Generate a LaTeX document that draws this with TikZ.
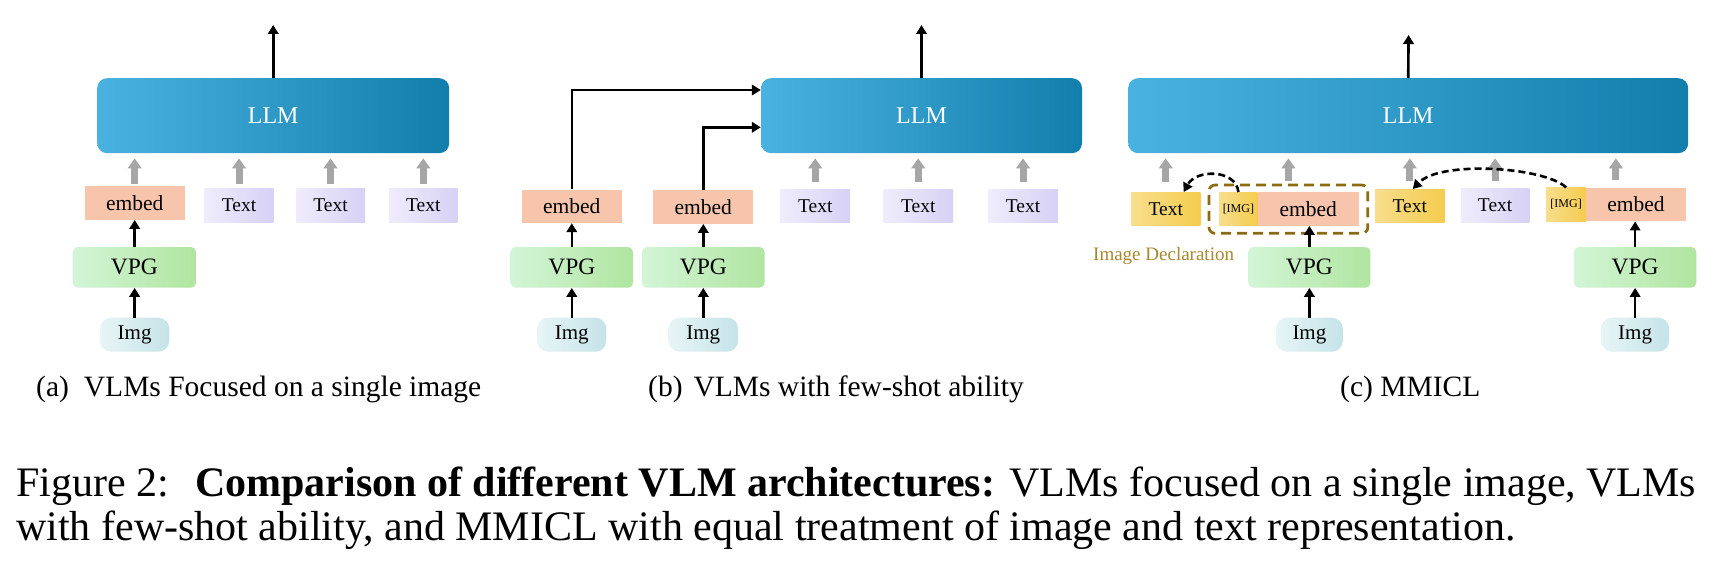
\documentclass[tikz,border=0pt]{standalone}
\usepackage{fontspec}
\setmainfont{Liberation Serif}
\usetikzlibrary{arrows.meta,calc}
\definecolor{llmL}{HTML}{4AB2E1}
\definecolor{llmR}{HTML}{127EAC}
\definecolor{embedc}{HTML}{F6C5AB}
\definecolor{txtL}{HTML}{EFECFC}
\definecolor{txtR}{HTML}{D7D1F5}
\definecolor{vpgL}{HTML}{D3F5D7}
\definecolor{vpgR}{HTML}{B0E5A0}
\definecolor{imgL}{HTML}{E7F5F6}
\definecolor{imgR}{HTML}{C5E3E8}
\definecolor{yelL}{HTML}{F8DE8D}
\definecolor{yelR}{HTML}{F5CC4E}
\definecolor{arrgray}{HTML}{A6A6A6}
\definecolor{declc}{HTML}{8C6B12}
\definecolor{decltext}{HTML}{A8882E}
\tikzset{
 fsz/.style={font=\fontsize{#1}{#1}\selectfont},
 box/.style={inner sep=0pt, text=black},
 llmbox/.style={box, rounded corners=10pt, left color=llmL, right color=llmR, minimum height=75pt, text=white, fsz=24},
 embedbox/.style={box, fill=embedc, minimum width=100pt, minimum height=33.5pt, fsz=21.5},
 textbox/.style={box, left color=txtL, right color=txtR, minimum width=69pt, minimum height=33.5pt, fsz=19.5},
 ytextbox/.style={box, left color=yelL, right color=yelR, minimum width=69.4pt, minimum height=33.4pt, fsz=19.5},
 tagbox/.style={box, left color=yelL, right color=yelR, minimum height=33.4pt, fsz=12},
 vpgbox/.style={box, rounded corners=5pt, left color=vpgL, right color=vpgR, minimum width=122.5pt, minimum height=40.7pt, fsz=23.5},
 imgbox/.style={box, rounded corners=11pt, left color=imgL, right color=imgR, minimum width=68pt, minimum height=34pt, fsz=21},
 blk/.style={line width=2.6pt, -{Triangle[width=10.5pt,length=9pt]}},
 gry/.style={draw=arrgray, line width=7pt, -{Triangle[width=13.5pt,length=10pt]}, shorten >=5pt},
 dcurve/.style={line width=2.6pt, dash pattern=on 7pt off 4pt, -{Triangle[width=10pt,length=9pt]}},
 declbox/.style={draw=declc, line width=2.7pt, dash pattern=on 10pt off 6pt, rounded corners=6pt, inner sep=0pt},
 subcap/.style={anchor=base west, inner sep=0pt, fsz=29.5},
 figcap/.style={anchor=base west, inner sep=0pt, fsz=42},
}
\begin{document}
\begin{tikzpicture}[x=1pt,y=-1pt]
\useasboundingbox[fill=white] (0,0) rectangle (1724,564);

% ---------------- panel (a)
\node[llmbox, minimum width=352pt] (llma) at (273.2,115.7) {LLM};
\node[embedbox] (embeda) at (134.7,203) {embed};
\node[textbox, minimum width=69.4pt] (ta1) at (239,205.5) {Text};
\node[textbox] (ta2) at (330.5,205.5) {Text};
\node[textbox, minimum width=68.7pt] (ta3) at (423.3,205.5) {Text};
\node[vpgbox, minimum width=123.3pt] (vpga) at (134.35,267.35) {VPG};
\node[imgbox, minimum width=69.3pt] (imga) at (134.65,334.7) {Img};
\coordinate (outa) at (273.2,25);
\draw[blk] (llma.north) -- (outa);
\draw[gry, shorten <=2pt] (embeda.north) -- (embeda.north |- llma.south);
\draw[gry, shorten <=4.5pt] (ta1.north) -- (ta1.north |- llma.south);
\draw[gry, shorten <=4.5pt] (ta2.north) -- (ta2.north |- llma.south);
\draw[gry, shorten <=4.5pt] (ta3.north) -- (ta3.north |- llma.south);
\draw[blk] (vpga.north -| embeda.south) -- (embeda.south);
\draw[blk] (imga.north) -- (imga.north |- vpga.south);

% ---------------- panel (b)
\node[llmbox, minimum width=321pt] (llmb) at (921.5,115.7) {LLM};
\node[embedbox] (embedb1) at (571.8,206.3) {embed};
\node[embedbox] (embedb2) at (703.3,207) {embed};
\node[textbox, minimum width=69.6pt] (tb1) at (815.2,206) {Text};
\node[textbox, minimum width=69.6pt] (tb2) at (918.2,206) {Text};
\node[textbox, minimum width=69.6pt] (tb3) at (1023,206) {Text};
\node[vpgbox] (vpgb1) at (571.8,267.35) {VPG};
\node[vpgbox] (vpgb2) at (703.3,267.35) {VPG};
\node[imgbox, minimum width=69pt] (imgb1) at (571.8,334.7) {Img};
\node[imgbox, minimum width=69.6pt] (imgb2) at (703.3,334.7) {Img};
\coordinate (outb) at (921.5,25);
\draw[blk] (llmb.north) -- (outb);
\draw[blk] (embedb1.north) |- ([yshift=25.7pt]llmb.west);
\draw[blk] (embedb2.north) |- ([yshift=-11.6pt]llmb.west);
\draw[gry, shorten <=7pt] (tb1.north) -- (tb1.north |- llmb.south);
\draw[gry, shorten <=7pt] (tb2.north) -- (tb2.north |- llmb.south);
\draw[gry, shorten <=7pt] (tb3.north) -- (tb3.north |- llmb.south);
\draw[blk] (vpgb1.north) -- (embedb1.south);
\draw[blk] (vpgb2.north) -- (embedb2.south);
\draw[blk] (imgb1.north) -- (vpgb1.south);
\draw[blk] (imgb2.north) -- (vpgb2.south);

% ---------------- panel (c)
\node[llmbox, minimum width=560pt] (llmc) at (1408.2,115.7) {LLM};
\node[ytextbox] (tc1) at (1165.7,209) {Text};
\node[tagbox, minimum width=38.4pt] (tag1) at (1238.4,209) {[IMG]};
\node[embedbox, minimum width=101.2pt, minimum height=33.4pt] (embedc1) at (1308.2,209) {embed};
\node[ytextbox] (tc2) at (1409.8,206) {Text};
\node[textbox, minimum width=68.6pt] (tc3) at (1495.1,205.5) {Text};
\node[tagbox, minimum width=40pt, minimum height=33.6pt] (tag2) at (1566.1,204.5) {[IMG]};
\node[embedbox, minimum width=99.6pt, minimum height=33.6pt] (embedc2) at (1635.9,204.5) {embed};
\node[declbox, minimum width=158.8pt, minimum height=48.3pt] (decl) at (1288.4,209.2) {};
\node[inner sep=0pt, fsz=19, text=decltext] (decllabel) at (1163.6,256) {Image Declaration};
\node[vpgbox, minimum width=122.1pt] (vpgc1) at (1309.4,267.35) {VPG};
\node[vpgbox, minimum width=122.4pt] (vpgc2) at (1635.1,267.35) {VPG};
\node[imgbox, minimum width=66.9pt] (imgc1) at (1309.4,334.7) {Img};
\node[imgbox, minimum width=68.2pt] (imgc2) at (1635.1,334.7) {Img};
\coordinate (outc) at (1408.6,35);
\coordinate (grp2) at ($(tag2.north west)!0.5!(embedc2.north east)$);
\draw[blk] (llmc.north) -- (outc);
\draw[gry, shorten <=9.6pt] (tc1.north) -- (tc1.north |- llmc.south);
\draw[gry, shorten <=2.3pt] (decl.north) -- (decl.north |- llmc.south);
\draw[gry, shorten <=7.6pt] (tc2.north) -- (tc2.north |- llmc.south);
\draw[gry, shorten <=7.7pt] (tc3.north) -- (tc3.north |- llmc.south);
\draw[gry, shorten <=7.7pt] (grp2) -- (grp2 |- llmc.south);
\draw[dcurve] (tag1.north) .. controls (1236,169) and (1196,169) .. ([xshift=18pt]tc1.north);
\draw[dcurve] (tag2.north) .. controls (1545,167) and (1440,160) .. ([xshift=3pt]tc2.north);
\draw[blk] (vpgc1.north) -- (vpgc1.north |- embedc1.south);
\draw[blk] (vpgc2.north) -- (vpgc2.north |- embedc2.south);
\draw[blk] (imgc1.north) -- (vpgc1.south);
\draw[blk] (imgc2.north) -- (vpgc2.south);

% ---------------- captions
\node[subcap] (capa) at (36,396) {(a)\hspace{15pt}VLMs Focused on a single image};
\node[subcap] (capb) at (648,396) {(b)\hspace{11pt}VLMs with few-shot ability};
\node[subcap] (capc) at (1340,396) {(c) MMICL};
\node[figcap] (fig1) at (16,496) {Figure 2:\hspace{0.62em}\textbf{Comparison of different VLM architectures:} VLMs focused on a single image, VLMs};
\node[figcap] (fig2) at (16,540) {with few-shot ability, and MMICL with equal treatment of image and text representation.};
\end{tikzpicture}
\end{document}
